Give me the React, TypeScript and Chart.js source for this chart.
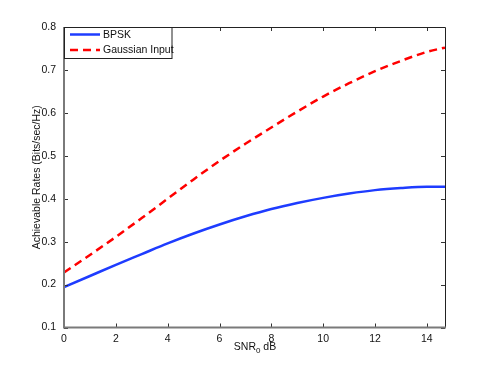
import React, { useEffect, useRef } from "react";
import { Chart, registerables } from "chart.js";

Chart.register(...registerables);

const snrDb = [0, 1, 2, 3, 4, 5, 6, 7, 8, 9, 10, 11, 12, 13, 14, 14.7];
const bpsk = [0.194, 0.22, 0.246, 0.271, 0.296, 0.319, 0.34, 0.359, 0.376, 0.39, 0.402, 0.412, 0.42, 0.425, 0.428, 0.428];
const gaussian = [0.228, 0.269, 0.311, 0.355, 0.4, 0.445, 0.488, 0.528, 0.566, 0.603, 0.638, 0.669, 0.697, 0.721, 0.742, 0.752];
const xTicks = [0, 2, 4, 6, 8, 10, 12, 14];
const yTicks = [0.1, 0.2, 0.3, 0.4, 0.5, 0.6, 0.7, 0.8];
const seriesLabels = ["BPSK", "Gaussian Input"];
const xTitle = ["SNR", "0", " dB"];
const yTitle = "Achievable Rates (Bits/sec/Hz)";

const FONT = "'Liberation Sans', Arial, Helvetica, sans-serif";

const decorPlugin = {
  id: "decor",
  afterDatasetsDraw(chart: any) {
    const ctx = chart.ctx;
    const { left, right, top, bottom } = chart.chartArea;
    const xs = chart.scales.x;
    const ys = chart.scales.y;
    ctx.save();
    // ticks inward
    ctx.strokeStyle = "#333";
    ctx.lineWidth = 1;
    const tl = 4;
    xTicks.forEach((v) => {
      const px = Math.round(xs.getPixelForValue(v)) + 0.5;
      ctx.beginPath();
      ctx.moveTo(px, bottom);
      ctx.lineTo(px, bottom - tl);
      ctx.moveTo(px, top);
      ctx.lineTo(px, top + tl);
      ctx.stroke();
    });
    yTicks.forEach((v) => {
      const py = Math.round(ys.getPixelForValue(v)) + 0.5;
      ctx.beginPath();
      ctx.moveTo(left, py);
      ctx.lineTo(left + tl, py);
      ctx.moveTo(right, py);
      ctx.lineTo(right - tl, py);
      ctx.stroke();
    });
    // box: top/right dark, left/bottom grey
    ctx.strokeStyle = "#222";
    ctx.lineWidth = 1;
    ctx.beginPath();
    ctx.moveTo(left, top + 0.5);
    ctx.lineTo(right + 0.5, top + 0.5);
    ctx.lineTo(right + 0.5, bottom);
    ctx.stroke();
    ctx.strokeStyle = "#7a7a7a";
    ctx.lineWidth = 2;
    ctx.beginPath();
    ctx.moveTo(left, top);
    ctx.lineTo(left, bottom);
    ctx.lineTo(right + 1, bottom);
    ctx.stroke();

    // legend
    const lx = left, ly = top;
    const lw = 107.5, lh = 31;
    ctx.fillStyle = "#fff";
    ctx.fillRect(lx, ly, lw, lh);
    ctx.strokeStyle = "#222";
    ctx.lineWidth = 1;
    ctx.strokeRect(lx + 0.5, ly + 0.5, lw, lh);
    ctx.font = `10.5px ${FONT}`;
    ctx.textBaseline = "middle";
    ctx.textAlign = "left";
    chart.data.datasets.forEach((ds: any, i: number) => {
      const yy = ly + 7.5 + i * 15.6;
      ctx.strokeStyle = ds.borderColor;
      ctx.lineWidth = 2.5;
      ctx.setLineDash(ds.borderDash || []);
      ctx.beginPath();
      ctx.moveTo(lx + 6, yy);
      ctx.lineTo(lx + 36, yy);
      ctx.stroke();
      ctx.setLineDash([]);
      ctx.fillStyle = "#111";
      ctx.fillText(ds.label, lx + 39, yy + 0.5);
    });

    // y title
    ctx.save();
    ctx.translate(37.5, (top + bottom) / 2);
    ctx.rotate(-Math.PI / 2);
    ctx.font = `10.5px ${FONT}`;
    ctx.textAlign = "center";
    ctx.textBaseline = "middle";
    ctx.fillStyle = "#111";
    ctx.fillText(yTitle, 0, 0);
    ctx.restore();

    // x title with subscript
    ctx.font = `10.5px ${FONT}`;
    const w1 = ctx.measureText(xTitle[0]).width;
    const w3 = ctx.measureText(xTitle[2]).width;
    ctx.font = `8px ${FONT}`;
    const w2 = ctx.measureText(xTitle[1]).width;
    const total = w1 + w2 + w3;
    const cx = 255;
    let x0 = cx - total / 2;
    const base = 349.5;
    ctx.textAlign = "left";
    ctx.textBaseline = "alphabetic";
    ctx.fillStyle = "#111";
    ctx.font = `10.5px ${FONT}`;
    ctx.fillText(xTitle[0], x0, base);
    ctx.font = `8px ${FONT}`;
    ctx.fillText(xTitle[1], x0 + w1, base + 3.5);
    ctx.font = `10.5px ${FONT}`;
    ctx.fillText(xTitle[2], x0 + w1 + w2, base);
    ctx.restore();
  },
};

export default function App() {
  const ref = useRef<HTMLCanvasElement>(null);
  useEffect(() => {
    document.body.style.margin = "0";
    const canvas = ref.current!;
    const chart = new Chart(canvas, {
      type: "line",
      data: {
        datasets: [
          {
            label: seriesLabels[0],
            data: snrDb.map((x, i) => ({ x, y: bpsk[i] })),
            borderColor: "rgb(30,60,255)",
            borderWidth: 2.5,
            pointRadius: 0,
            cubicInterpolationMode: "monotone",
            fill: false,
          },
          {
            label: seriesLabels[1],
            data: snrDb.map((x, i) => ({ x, y: gaussian[i] })),
            borderColor: "rgb(255,0,0)",
            borderWidth: 2.5,
            borderDash: [8, 5],
            pointRadius: 0,
            cubicInterpolationMode: "monotone",
            fill: false,
          },
        ],
      },
      options: {
        animation: false,
        responsive: false,
        maintainAspectRatio: false,
        layout: { padding: { top: 27, right: 46, left: 0, bottom: 0 } },
        plugins: { legend: { display: false }, tooltip: { enabled: false } },
        scales: {
          x: {
            type: "linear",
            min: 0,
            max: 14.7,
            grid: { display: false, drawTicks: false },
            border: { display: false },
            afterFit: (s: any) => { s.height = 41.5; },
            afterBuildTicks: (s: any) => { s.ticks = xTicks.map((v) => ({ value: v })); },
            ticks: {
              padding: 5,
              color: "#111",
              font: { family: FONT, size: 10.5 },
              maxRotation: 0,
              callback: (v: any) => String(v),
            },
          },
          y: {
            type: "linear",
            min: 0.1,
            max: 0.8,
            grid: { display: false, drawTicks: false },
            border: { display: false },
            afterFit: (s: any) => { s.width = 64; },
            afterBuildTicks: (s: any) => { s.ticks = yTicks.map((v) => ({ value: v })); },
            ticks: {
              padding: 8,
              color: "#111",
              font: { family: FONT, size: 10.5 },
              callback: (v: any) => Number(v).toFixed(1),
            },
          },
        },
      },
      plugins: [decorPlugin],
    } as any);
    return () => chart.destroy();
  }, []);
  return (
    <div style={{ width: 491, height: 369, background: "#fff" }}>
      <canvas ref={ref} width={491} height={369} style={{ display: "block" }} />
    </div>
  );
}
